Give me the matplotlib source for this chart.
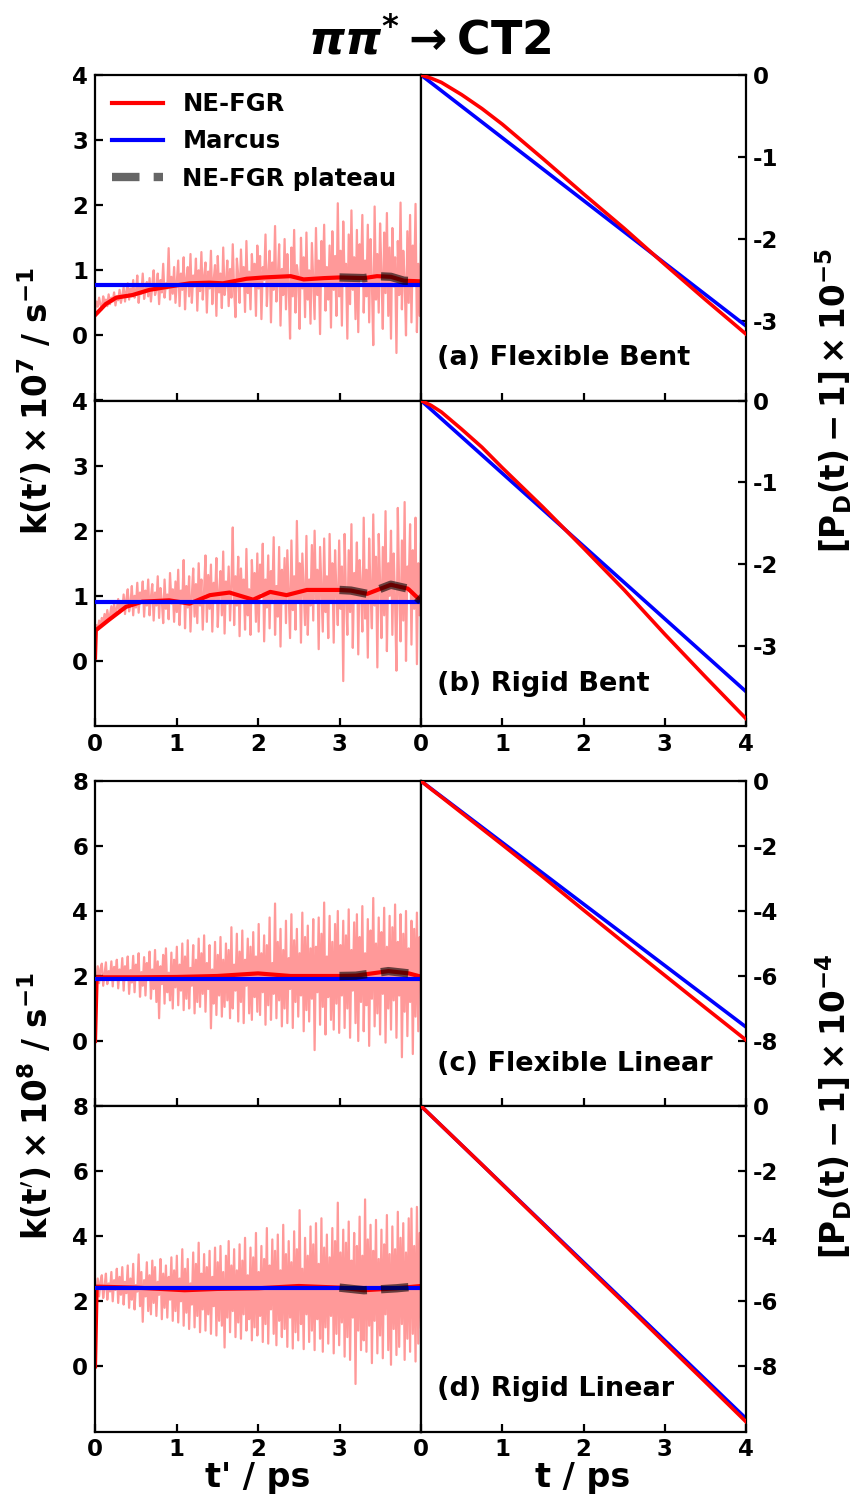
import numpy as np
import matplotlib
matplotlib.use("Agg")
import matplotlib.pyplot as plt

plt.rcParams['font.family'] = ['DejaVu Sans']
plt.rcParams['font.weight'] = 'bold'
plt.rcParams['axes.unicode_minus'] = False
plt.rcParams['mathtext.default'] = 'bf'

# ---------------- data ----------------
panel_labels = ['(a) Flexible Bent', '(b) Rigid Bent', '(c) Flexible Linear', '(d) Rigid Linear']

# raw NE-FGR k(t') (pink), t' from 0 to 4 ps
raw_a = [0.38, 0.52, 0.44, 0.58, 0.47, 0.40, 0.60, 0.50, 0.55, 0.45, 0.63, 0.48, 0.58, 0.52, 0.66, 0.46, 0.60, 0.54, 0.70, 0.50,
         0.62, 0.74, 0.52, 0.68, 0.80, 0.55, 0.72, 0.60, 0.85, 0.58, 0.66, 0.92, 0.50, 0.75, 0.64, 0.95, 0.56, 0.70, 0.82, 0.60,
         0.88, 0.52, 0.78, 1.00, 0.62, 0.70, 0.95, 0.48, 0.85, 0.66, 1.10, 0.58, 0.80, 0.72, 1.34, 0.55, 0.90, 0.64, 1.05, 0.50,
         0.82, 1.15, 0.45, 0.95, 0.70, 1.20, 0.40, 0.88, 1.05, 0.60, 1.25, 0.50, 0.92, 0.75, 1.18, 0.38, 1.00, 0.68, 1.28, 0.55,
         0.90, 1.12, 0.35, 0.98, 0.72, 1.30, 0.48, 0.85, 1.08, 0.30, 1.22, 0.66, 0.95, 0.42, 1.35, 0.62, 0.80, 1.15, 0.45, 1.02,
         0.58, 1.40, 0.70, 0.28, 1.18, 0.92, 0.50, 1.32, 0.76, 1.05, 0.36, 1.45, 0.65, 0.98, 0.40, 1.25, 0.82, 1.10, 0.30, 1.38,
         0.72, 1.22, 0.25, 1.05, 0.85, 1.55, 0.45, 0.95, 1.30, 0.20, 1.12, 0.70, 1.68, 0.52, 0.88, 1.40, 0.15, 1.02, 0.62, 1.48,
         0.40, 1.25, 0.80, -0.05, 1.35, 0.60, 1.62, 0.35, 1.08, 0.90, 0.10, 1.50, 0.72, 1.20, 0.28, 1.58, 0.55, 1.00, 0.18, 1.42,
         0.85, 0.25, 1.65, 0.62, 1.15, 0.02, 1.45, 0.78, 1.70, 0.38, 1.05, 0.55, 1.38, 0.12, 1.60, 0.70, 1.22, 0.30, 2.03, 0.60,
         1.30, 0.15, 1.75, 0.82, 1.10, -0.05, 1.55, 0.48, 1.92, 0.70, 1.20, 0.25, 1.62, 0.05, 1.40, 0.90, 1.85, 0.35, 1.15, 0.60,
         1.70, 0.20, 1.48, 0.80, -0.15, 1.98, 0.55, 1.25, 0.35, 1.72, 0.95, 0.10, 1.58, 0.65, 1.88, 0.30, 1.35, -0.05, 1.65, 0.75,
         1.20, -0.27, 1.45, 0.62, 2.04, 0.40, 1.30, 0.85, 0.00, 1.60, 0.50, 1.85, 0.20, 1.38, 0.78, 2.02, 0.05, 1.10, 0.30, 1.40]
raw_b = [0.45, 0.55, 0.48, 0.62, 0.52, 0.66, 0.58, 0.72, 0.60, 0.78, 0.65, 0.70, 0.84, 0.66, 0.88, 0.72, 0.80, 0.95, 0.74, 0.90,
         0.78, 1.02, 0.72, 0.95, 1.10, 0.76, 0.88, 1.15, 0.70, 1.00, 0.82, 1.20, 0.74, 1.05, 0.92, 1.22, 0.68, 1.08, 0.85, 1.25,
         0.70, 0.98, 1.18, 0.62, 1.05, 0.85, 1.30, 0.66, 1.12, 0.92, 0.58, 1.25, 0.80, 1.02, 0.64, 1.35, 0.88, 1.10, 0.60, 1.22,
         0.75, 1.40, 0.55, 1.08, 0.90, 1.55, 0.50, 1.15, 0.82, 1.30, 0.45, 1.00, 1.42, 0.68, 1.18, 0.58, 1.50, 0.85, 1.25, 0.48,
         1.10, 1.62, 0.60, 1.32, 0.80, 1.48, 0.45, 1.20, 0.95, 1.58, 0.52, 1.05, 1.38, 0.70, 1.68, 0.42, 1.22, 0.88, 1.45, 0.62,
         1.15, 2.05, 0.55, 1.30, 0.85, 1.60, 0.38, 1.42, 0.92, 1.25, 0.48, 1.72, 0.70, 1.10, 0.40, 1.55, 0.98, 1.35, 0.60, 1.65,
         0.45, 1.48, 1.05, 1.80, 0.30, 1.25, 0.82, 1.62, 0.50, 1.38, 0.95, 1.90, 0.40, 1.15, 0.68, 1.75, 0.22, 1.40, 0.88, 1.58,
         0.58, 1.70, 1.02, 0.35, 1.85, 0.78, 1.30, 0.48, 2.15, 0.92, 1.50, 0.28, 1.65, 1.08, 0.55, 1.92, 0.40, 1.25, 0.85, 1.78,
         0.62, 2.00, 0.95, 1.40, 0.18, 1.75, 1.10, 0.45, 1.88, 0.75, 1.30, 0.35, 1.95, 0.90, 1.50, 0.28, 1.70, 1.05, 0.55, 1.85,
         0.80, 1.45, -0.31, 1.95, 1.00, 0.40, 1.70, 0.75, 2.10, 0.20, 1.35, 0.95, 1.82, 0.10, 1.55, 1.15, 0.45, 2.20, 0.65, 1.40,
         0.05, 1.88, 1.05, 0.50, 2.25, 0.85, 1.60, -0.10, 1.95, 1.20, 0.35, 1.75, 0.70, 2.30, 0.15, 1.50, 1.00, 2.00, 0.40, 1.65,
         0.90, -0.15, 2.35, 1.10, 0.30, 1.85, 0.62, 2.44, 0.00, 1.45, 1.15, 2.10, 0.25, 1.70, 0.80, 2.20, -0.05, 1.50, 0.70, 1.80]
raw_c = [2.10, 1.85, 2.30, 1.78, 2.22, 2.38, 1.70, 2.05, 2.42, 1.75, 2.15, 1.90, 2.45, 1.68, 2.28, 2.02, 2.50, 1.62, 2.20, 1.88,
         2.55, 1.55, 2.30, 1.95, 2.60, 1.45, 2.18, 1.80, 2.62, 1.50, 2.35, 2.00, 2.70, 1.36, 2.12, 1.70, 2.58, 1.40, 2.40, 1.90,
         2.75, 1.30, 2.20, 1.60, 2.80, 1.20, 2.45, 0.70, 2.30, 1.75, 2.65, 1.15, 2.85, 1.50, 2.10, 1.25, 2.72, 1.00, 2.50, 1.65,
         2.90, 1.10, 2.35, 1.55, 3.00, 0.95, 2.60, 1.30, 3.10, 1.00, 2.25, 1.70, 2.95, 0.85, 2.50, 1.20, 3.15, 1.05, 2.70, 1.45,
         3.25, 0.90, 2.40, 1.60, 2.95, 0.39, 2.20, 1.15, 3.05, 0.80, 2.65, 1.40, 3.20, 0.75, 2.50, 1.05, 3.00, 1.25, 2.80, 0.70,
         3.50, 1.00, 2.35, 1.55, 3.30, 0.60, 2.75, 1.20, 3.40, 0.55, 2.50, 1.70, 3.15, 0.85, 2.90, 0.65, 3.35, 1.35, 2.60, 0.90,
         3.60, 0.80, 2.70, 1.50, 3.25, 0.50, 2.95, 1.10, 3.80, 0.65, 2.40, 1.45, 4.23, 0.70, 3.05, 1.25, 3.45, 0.45, 2.80, 1.00,
         3.70, 0.55, 2.55, 1.60, 3.90, 0.40, 3.10, 1.20, 3.45, 0.75, 2.70, 1.40, 3.95, 0.30, 3.20, 0.95, 3.55, 0.60, 2.85, 1.30,
         3.75, -0.28, 2.90, 1.50, 3.80, 0.50, 3.30, 1.05, 4.26, 0.20, 2.60, 1.35, 3.85, 0.65, 3.05, 0.35, 3.60, 1.15, 4.00, 0.25,
         2.95, 1.40, 3.70, 0.40, 3.25, 1.00, 4.05, 0.10, 2.80, 1.55, 3.65, 0.55, 3.90, 0.00, 3.20, 1.20, 4.15, 0.30, 2.70, 1.10,
         3.75, -0.15, 3.40, 1.30, 4.40, 0.45, 3.00, 0.85, 3.80, 0.20, 3.35, 1.45, 4.10, -0.05, 2.90, 1.00, 3.85, 0.35, 3.50, 1.25,
         4.20, 0.10, 3.05, 1.40, 3.90, -0.50, 3.30, 0.90, 4.00, 0.15, 2.85, 1.20, 3.70, -0.40, 3.45, 0.75, 3.95, 0.30, 3.20, 1.60]
raw_d = [2.50, 2.25, 2.70, 2.15, 2.60, 2.80, 2.10, 2.45, 2.85, 2.05, 2.55, 2.30, 2.90, 2.00, 2.65, 2.35, 3.00, 1.95, 2.75, 2.20,
         3.05, 1.90, 2.60, 2.25, 3.10, 1.80, 2.70, 2.05, 3.15, 1.75, 2.50, 2.30, 3.44, 1.85, 2.90, 1.37, 2.65, 2.15, 3.20, 1.70,
         2.80, 1.60, 3.25, 1.95, 3.05, 1.55, 2.60, 2.20, 3.30, 1.45, 2.85, 1.80, 3.10, 1.50, 2.75, 2.05, 3.35, 1.40, 2.95, 1.70,
         3.40, 1.35, 2.70, 2.00, 3.60, 1.25, 3.00, 1.65, 3.30, 1.15, 2.55, 1.90, 3.50, 1.20, 3.15, 1.55, 3.80, 1.05, 2.85, 1.75,
         3.45, 1.10, 3.05, 1.60, 3.55, 1.00, 2.75, 1.85, 3.65, 0.95, 3.20, 1.40, 3.70, 1.25, 2.90, 0.58, 3.40, 1.50, 3.85, 1.05,
         3.10, 1.70, 3.60, 0.90, 2.95, 1.35, 3.75, 0.85, 3.25, 1.60, 3.95, 1.10, 2.80, 1.45, 3.65, 0.80, 3.35, 1.20, 4.10, 0.95,
         2.90, 1.55, 3.70, 0.75, 3.30, 1.30, 4.25, 0.70, 3.10, 1.75, 3.90, 1.00, 3.55, 0.65, 4.05, 1.40, 2.95, 0.90, 4.35, 1.15,
         3.45, 0.60, 3.85, 1.50, 3.20, 0.55, 4.15, 1.05, 3.60, 0.80, 4.80, 1.30, 3.00, 0.53, 3.95, 1.60, 3.40, 0.75, 4.30, 1.10,
         3.75, 0.50, 4.40, 1.45, 3.15, 0.85, 4.55, 0.45, 3.65, 1.20, 4.05, 0.70, 3.35, 1.55, 4.25, 0.40, 3.85, 1.00, 5.03, 0.65,
         3.50, 1.35, 4.20, 0.30, 3.80, 0.90, 4.45, 0.20, 3.25, 1.50, 4.10, -0.54, 3.70, 1.10, 4.60, 0.50, 3.40, 0.80, 5.13, 0.45,
         3.90, 1.25, 4.35, 0.10, 3.55, 1.40, 4.50, 0.40, 3.30, 0.95, 4.20, 0.25, 3.75, 1.60, 4.65, 0.50, 3.45, 0.05, 4.30, 1.15,
         3.60, 0.35, 4.75, 0.60, 3.95, 1.30, 4.40, 0.20, 3.50, 0.85, 4.55, 0.45, 4.85, 1.00, 3.70, 0.15, 4.90, 0.70, 4.10, 1.20]

# smoothed NE-FGR k(t')
ts_a = [0, 0.13, 0.26, 0.46, 0.67, 0.91, 1.16, 1.4, 1.57, 1.86, 2.07, 2.4, 2.56, 2.81, 3.0, 3.3, 3.46, 3.63, 3.79, 4.0]
ks_a = [0.31, 0.48, 0.58, 0.62, 0.70, 0.75, 0.80, 0.81, 0.80, 0.87, 0.89, 0.91, 0.86, 0.88, 0.89, 0.88, 0.91, 0.90, 0.84, 0.83]
ts_b = [0, 0.01, 0.17, 0.38, 0.58, 0.91, 1.16, 1.41, 1.65, 1.94, 2.15, 2.35, 2.6, 2.89, 3.0, 3.14, 3.34, 3.63, 3.84, 4.0]
ks_b = [0.05, 0.47, 0.63, 0.83, 0.91, 0.93, 0.88, 1.01, 1.05, 0.94, 1.06, 1.01, 1.09, 1.09, 1.09, 1.08, 1.03, 1.17, 1.11, 0.92]
ts_c = [0, 0.02, 0.5, 1.0, 1.5, 2.0, 2.4, 2.8, 3.0, 3.2, 3.6, 3.85, 4.0]
ks_c = [0, 1.96, 1.96, 1.97, 2.0, 2.08, 2.0, 2.0, 2.0, 2.01, 2.15, 2.08, 1.98]
ts_d = [0, 0.02, 0.5, 1.1, 1.5, 2.0, 2.5, 3.0, 3.3, 3.7, 4.0]
ks_d = [0, 2.45, 2.42, 2.34, 2.38, 2.40, 2.47, 2.42, 2.34, 2.40, 2.47]

# Marcus rates
k_marcus = [0.77, 0.90, 1.90, 2.40]

# populations [P_D(t) - 1]
tP = [0, 0.125, 0.25, 0.5, 0.75, 1, 1.5, 2, 2.5, 3, 3.5, 4]
P_a = [0, -0.04, -0.09, -0.24, -0.41, -0.60, -1.02, -1.45, -1.87, -2.31, -2.74, -3.16]
P_b = [0, -0.06, -0.14, -0.35, -0.57, -0.82, -1.30, -1.80, -2.31, -2.85, -3.37, -3.88]
P_c = [0, -0.25, -0.49, -0.98, -1.47, -1.96, -2.95, -3.97, -4.98, -5.98, -6.98, -7.97]
P_d = [0, -0.30, -0.60, -1.20, -1.80, -2.41, -3.62, -4.84, -6.05, -7.27, -8.48, -9.70]
tM = [0, 4]
PM_a = [0, -3.06]
PM_b = [0, -3.55]
PM_c = [0, -7.57]
PM_d = [0, -9.60]

raws = [raw_a, raw_b, raw_c, raw_d]
tss = [ts_a, ts_b, ts_c, ts_d]
kss = [ks_a, ks_b, ks_c, ks_d]
Ps = [P_a, P_b, P_c, P_d]
PMs = [PM_a, PM_b, PM_c, PM_d]

# ---------------- figure ----------------
fig = plt.figure(figsize=(8.6, 14.98), dpi=100)
W, H = 860.0, 1498.0
xl0, xl1, xr1 = 95, 421, 746
rows = [(75, 400.5), (400.5, 726), (781, 1106), (1106, 1431.5)]

left_ylim = [(-1, 4), (-1, 4), (-2, 8), (-2, 8)]
left_yticks = [[0, 1, 2, 3, 4], [0, 1, 2, 3, 4], [0, 2, 4, 6, 8], [0, 2, 4, 6, 8]]
right_ylim = [(-3.97, 0), (-3.97, 0), (-10, 0), (-10, 0)]
right_yticks = [[0, -1, -2, -3], [0, -1, -2, -3], [0, -2, -4, -6, -8], [0, -2, -4, -6, -8]]

def style(ax):
    for s in ax.spines.values():
        s.set_linewidth(1.6)
    ax.tick_params(direction='in', length=6, width=1.6, labelsize=16.5, pad=5)
    for lab in ax.get_xticklabels() + ax.get_yticklabels():
        lab.set_fontweight('bold')

for i, (top, bot) in enumerate(rows):
    b = 1 - bot / H
    h = (bot - top) / H
    axL = fig.add_axes([xl0 / W, b, (xl1 - xl0) / W, h])
    axR = fig.add_axes([xl1 / W, b, (xr1 - xl1) / W, h])

    raw = raws[i]
    traw = np.linspace(0, 4, len(raw))
    axL.plot(traw, raw, color='#ff9999', lw=1.6, zorder=1)
    ts = np.array(tss[i]); ks = np.array(kss[i])
    l1, = axL.plot(ts, ks, color='red', lw=3, zorder=2, label='NE-FGR')
    l2 = axL.axhline(k_marcus[i], color='blue', lw=3, zorder=3, label='Marcus')
    m = ts >= 3.0
    l3, = axL.plot(ts[m], ks[m], color='k', alpha=0.6, lw=6, zorder=4,
                   linestyle=(0, (3.3, 1.7)), solid_capstyle='butt', dash_capstyle='butt',
                   label='NE-FGR plateau')
    axL.set_xlim(0, 4)
    axL.set_ylim(*left_ylim[i])
    axL.set_xticks([0, 1, 2, 3])
    axL.set_yticks(left_yticks[i])
    style(axL)
    if i in (0, 2):
        axL.tick_params(labelbottom=False)

    axR.plot(tM, PMs[i], color='blue', lw=2.6, zorder=2)
    axR.plot(tP, Ps[i], color='red', lw=2.6, zorder=3)
    axR.set_xlim(0, 4)
    axR.set_ylim(*right_ylim[i])
    axR.set_xticks([0, 1, 2, 3, 4])
    axR.set_yticks(right_yticks[i])
    axR.yaxis.tick_right()
    style(axR)
    axR.tick_params(axis='y', left=False, right=True, labelleft=False, labelright=True)
    if i in (0, 2):
        axR.tick_params(labelbottom=False)
    axR.text(0.05, 0.13, panel_labels[i], transform=axR.transAxes, fontsize=19.5,
             fontweight='bold', ha='left', va='center')

    if i == 0:
        axL.legend(handles=[l1, l2, l3], loc='upper left', frameon=False, fontsize=17.5,
                   handlelength=2.1, handletextpad=0.8, labelspacing=0.55,
                   borderaxespad=0.3, bbox_to_anchor=(0.0, 1.0))

# labels
ylab_k = [r'$\mathbf{k(t^{\prime})\times10^{7}\ /\ s^{-1}}$', r'$\mathbf{k(t^{\prime})\times10^{8}\ /\ s^{-1}}$']
ylab_P = [r'$\mathbf{[P_{D}(t)-1]\times10^{-5}}$', r'$\mathbf{[P_{D}(t)-1]\times10^{-4}}$']
for j, yc in enumerate([400.5, 1106]):
    fig.text(36 / W, 1 - yc / H, ylab_k[j], rotation=90, ha='center', va='center', fontsize=23.5)
    fig.text(834 / W, 1 - yc / H, ylab_P[j], rotation=90, ha='center', va='center', fontsize=23.5)

fig.text(258 / W, 1 - 1478 / H, "t' / ps", ha='center', va='center', fontsize=24, fontweight='bold')
fig.text(583 / W, 1 - 1478 / H, "t / ps", ha='center', va='center', fontsize=24, fontweight='bold')
fig.text(430 / W, 1 - 40 / H, r'$\boldsymbol{\pi\pi}^{\mathbf{*}}\rightarrow\mathbf{CT2}$',
         ha='center', va='center', fontsize=33)

fig.savefig('out.png', dpi=100)
